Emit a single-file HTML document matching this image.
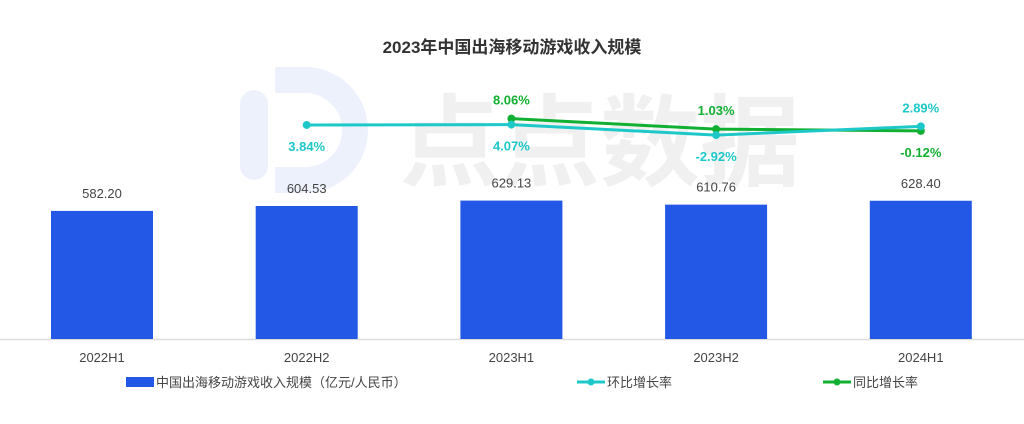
<!DOCTYPE html>
<html><head><meta charset="utf-8"><style>
body{margin:0;background:#fff;width:1024px;height:419px;overflow:hidden;font-family:"Liberation Sans","Noto Sans CJK SC",sans-serif}
</style></head><body>
<svg width="1024" height="419" id="chart" font-family="Liberation Sans, Noto Sans CJK SC, sans-serif">
<text x="512" y="53" text-anchor="middle" font-size="17" font-weight="bold" fill="#333">2023年中国出海移动游戏收入规模</text>
<g opacity="0.08">
<rect x="240" y="90" width="28" height="90" rx="14" fill="#2358e6"/>
<path d="M275 80 h30 a50 50 0 0 1 0 100 h-30" fill="none" stroke="#2358e6" stroke-width="26"/>
</g>
<text x="600" y="178" text-anchor="middle" font-size="100" font-weight="bold" fill="#000" fill-opacity="0.06">点点数据</text>
<line x1="0" y1="339.5" x2="1024" y2="339.5" stroke="#ddd" stroke-width="1.5"/>
<g id="bars"></g><g id="lines"></g><g id="labels"></g>
<g font-size="13" fill="#444">
<rect x="126" y="377" width="28" height="10" fill="#2358e6"/>
<text x="156" y="387">中国出海移动游戏收入规模（亿元/人民币）</text>
<line x1="577" y1="382" x2="605" y2="382" stroke="#1fc8c8" stroke-width="3"/><circle cx="591" cy="382" r="3.5" fill="#1fc8c8"/>
<text x="607" y="387">环比增长率</text>
<line x1="823" y1="382" x2="851" y2="382" stroke="#12b032" stroke-width="3"/><circle cx="837" cy="382" r="3.5" fill="#12b032"/>
<text x="853" y="387">同比增长率</text>
</g>
</svg>
<script>
const categories=["2022H1","2022H2","2023H1","2023H2","2024H1"];
const revenue=[582.20,604.53,629.13,610.76,628.40];
const mom=[null,3.84,4.07,-2.92,2.89];
const yoy=[null,null,8.06,1.03,-0.12];
const ns="http://www.w3.org/2000/svg";
const xc=i=>102+i*204.7;
const yb=v=>339-v*0.22;
const yl=v=>130.7-1.5*v;
function mk(t,a,p){const e=document.createElementNS(ns,t);for(const k in a)e.setAttribute(k,a[k]);p.appendChild(e);return e;}
const B=document.getElementById('bars'),L=document.getElementById('lines'),T=document.getElementById('labels');
categories.forEach((c,i)=>{
 const r=mk('rect',{x:xc(i)-51,y:yb(revenue[i]),width:102,height:339-yb(revenue[i]),fill:'#2358e6'},B);
 
 
 const t=mk('text',{x:xc(i),y:yb(revenue[i])-13,'text-anchor':'middle','font-size':13,fill:'#444'},T);t.textContent=revenue[i].toFixed(2);
 
 
 const xt=mk('text',{x:xc(i),y:362,'text-anchor':'middle','font-size':13,fill:'#444'},T);xt.textContent=c;
 
 
});
function series(vals,color,name,below){
 const pts=[];vals.forEach((v,i)=>{if(v!==null)pts.push([xc(i),yl(v),v,i]);});
 const pl=mk('polyline',{points:pts.map(p=>p[0]+','+p[1]).join(' '),fill:'none',stroke:color,'stroke-width':3},L);
 
 
 pts.forEach(p=>{
  const c=mk('circle',{cx:p[0],cy:p[1],r:4,fill:color},L);
  
  
  const dn=below(p[2],p[3]);
  const t=mk('text',{x:p[0],y:dn?p[1]+26:p[1]-14,'text-anchor':'middle','font-size':13,'font-weight':'bold',fill:color},T);
  t.textContent=p[2].toFixed(2)+'%';
  
  
 });
}
series(yoy,'#12b032','yoy',(v,i)=>v<0);
series(mom,'#1fc8c8','mom',(v,i)=>i<4);
</script>
</body></html>
